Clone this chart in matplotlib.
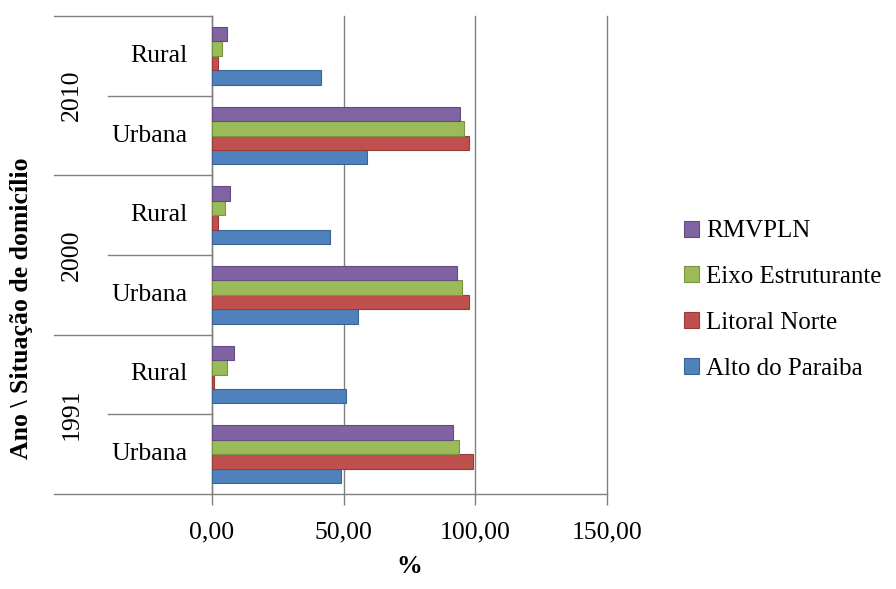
import numpy as np
import matplotlib.pyplot as plt
from matplotlib import transforms
from matplotlib.patches import Patch

plt.rcParams['font.family'] = ['Liberation Serif', 'DejaVu Serif']

# Categorias (de baixo para cima)
anos = ['1991', '2000', '2010']
situacoes = ['Urbana', 'Rural']
series = ['Alto do Paraiba', 'Litoral Norte', 'Eixo Estruturante', 'RMVPLN']
cores = ['#4F81BD', '#C0504D', '#9BBB59', '#8064A2']
bordas = ['#3A6396', '#973C3A', '#7A9446', '#634D80']

# % por série: 1991 Urbana, 1991 Rural, 2000 Urbana, 2000 Rural, 2010 Urbana, 2010 Rural
alto_paraiba = [49.0, 50.9, 55.3, 44.7, 58.7, 41.3]
litoral_norte = [98.9, 1.0, 97.5, 2.5, 97.5, 2.5]
eixo_estruturante = [93.9, 5.9, 94.9, 4.9, 95.8, 3.9]
rmvpln = [91.5, 8.3, 93.0, 6.9, 94.1, 5.9]
valores = [alto_paraiba, litoral_norte, eixo_estruturante, rmvpln]

xticks = [0, 50, 100, 150]
xticklabels = ['0,00', '50,00', '100,00', '150,00']

W, H = 896, 589
fig = plt.figure(figsize=(W / 100, H / 100), dpi=100)
ax = fig.add_axes([211.7 / W, 1 - 494 / H, (607.3 - 211.7) / W, (494 - 16) / H])

cinza = '#808080'
fs = 18.5

pos = np.arange(len(anos) * len(situacoes))
h = 0.182
for k, (vals, cor, borda, nome) in enumerate(zip(valores, cores, bordas, series)):
    ax.barh(pos + (k - 1.5) * h, vals, height=h, color=cor, edgecolor=borda,
            linewidth=0.8, label=nome, zorder=3)

ax.set_xlim(0, 150)
ax.set_ylim(-0.5, len(pos) - 0.5)
ax.set_xticks(xticks)
ax.set_xticklabels(xticklabels, fontsize=fs)
ax.set_yticks([])
ax.tick_params(axis='x', length=8, color=cinza, width=1, pad=12)
ax.grid(axis='x', color=cinza, linewidth=1, zorder=0)
for linha in ax.get_xgridlines():
    linha.set_clip_on(False)
for s in ['top', 'right']:
    ax.spines[s].set_visible(False)
for s in ['left', 'bottom']:
    ax.spines[s].set_color(cinza)
    ax.spines[s].set_linewidth(1)

ax.set_xlabel('%', fontsize=fs, fontweight='bold', labelpad=8)

# Eixo de categorias em dois níveis
trans = transforms.blended_transform_factory(fig.transFigure, ax.transData)
x_ext = 54 / W
x_int = 108 / W
x_eixo = 211.7 / W
for i in range(len(pos) + 1):
    y = i - 0.5
    x0 = x_ext if i % 2 == 0 else x_int
    ax.plot([x0, x_eixo], [y, y], transform=trans, color=cinza, lw=1,
            clip_on=False, zorder=1)

for i, p in enumerate(pos):
    ax.text(188 / W, p, situacoes[i % 2], transform=trans, fontsize=fs,
            ha='right', va='center')
for j, ano in enumerate(anos):
    ax.text(72 / W, 2 * j + 0.5, ano, transform=trans, fontsize=fs,
            rotation=90, ha='center', va='center')

fig.text(22 / W, 1 - 308 / H, 'Ano \\ Situação de domicílio', fontsize=fs,
         fontweight='bold', rotation=90, ha='center', va='center')

# Legenda
handles = [Patch(facecolor=c, edgecolor=b, linewidth=0.8) for c, b in zip(cores, bordas)]
leg = fig.legend(handles[::-1], series[::-1], loc='center left',
                 bbox_to_anchor=(684 / W, 1 - 300 / H), frameon=False,
                 fontsize=18, handlelength=0.6, handleheight=0.6,
                 handletextpad=0.3, labelspacing=0.95, borderpad=0,
                 borderaxespad=0)

fig.savefig('out.png', dpi=100)
